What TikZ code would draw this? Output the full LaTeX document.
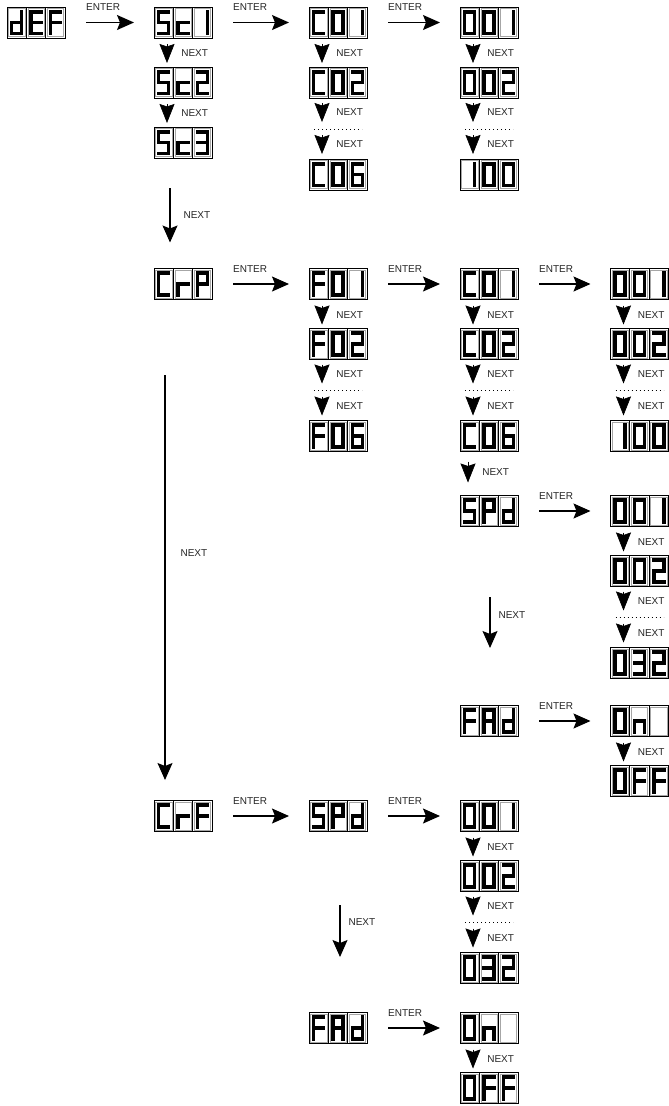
\documentclass[tikz,border=0pt]{standalone}
\usepackage{fontspec}
\setmainfont{Liberation Sans}
\usetikzlibrary{arrows.meta}

% seven segments, relative to a cell centre (y grows downwards)
\def\sgA{\draw[segline] (-5,-10.8) -- (5,-10.8);}
\def\sgB{\draw[segline] (5,-10.8) -- (5,0);}
\def\sgC{\draw[segline] (5,0) -- (5,10.8);}
\def\sgD{\draw[segline] (-5,10.8) -- (5,10.8);}
\def\sgE{\draw[segline] (-5,0) -- (-5,10.8);}
\def\sgF{\draw[segline] (-5,-10.8) -- (-5,0);}
\def\sgG{\draw[segline] (-5,0) -- (5,0);}

\expandafter\def\csname Gly0\endcsname{A,B,C,D,E,F}
\expandafter\def\csname Gly1\endcsname{B,C}
\expandafter\def\csname Gly2\endcsname{A,B,G,E,D}
\expandafter\def\csname Gly3\endcsname{A,B,G,C,D}
\expandafter\def\csname Gly6\endcsname{A,F,G,E,D,C}
\expandafter\def\csname GlyS\endcsname{A,F,G,C,D}
\expandafter\def\csname GlyA\endcsname{A,B,C,E,F,G}
\expandafter\def\csname GlyC\endcsname{A,F,E,D}
\expandafter\def\csname Glyc\endcsname{G,E,D}
\expandafter\def\csname Glyd\endcsname{B,C,D,E,G}
\expandafter\def\csname GlyE\endcsname{A,D,E,F,G}
\expandafter\def\csname GlyF\endcsname{A,E,F,G}
\expandafter\def\csname GlyP\endcsname{A,B,F,G,E}
\expandafter\def\csname Glyr\endcsname{E,G}
\expandafter\def\csname Glyn\endcsname{E,G,C}
\expandafter\def\csname Glyx\endcsname{}

\newcommand\segglyph[2]{%
  \begin{scope}[shift={(#1,0)}]
    \expandafter\let\expandafter\glylist\csname Gly#2\endcsname
    \foreach \s in \glylist {\csname sg\s\endcsname}
  \end{scope}}

\newcommand\segdisp[6]{%
  \node[dispbox] (#1) at (#2,#3) {};
  \begin{scope}[shift={(#2,#3)}]
    \foreach \cx in {-19.333,0,19.333} {\draw[cellin] (\cx-8.1,-13.9) rectangle (\cx+8.1,13.9);}
    \draw[cellsep] (-9.667,-15.5) -- (-9.667,15.5) (9.667,-15.5) -- (9.667,15.5);
    \segglyph{-19.333}{#4}\segglyph{0}{#5}\segglyph{19.333}{#6}
  \end{scope}}

\newcommand\enterarrow[3]{%
  \draw[enterarr] ([xshift=21pt]#1.east) -- ([xshift=-20pt]#2.west);
  \node[lbl,anchor=west] (#3) at ([xshift=21pt,yshift=15pt]#1.east) {ENTER};}

\newcommand\nexttip[3]{%
  \draw[tipstyle] ([xshift=13pt,yshift=-6pt]#1.south west) -- ([xshift=13pt,yshift=4pt]#2.north west)
     node[lbl,midway,anchor=west,xshift=14pt] (#3) {NEXT};}

\newcommand\nextdots[4]{%
  \draw[tipstyle] ([xshift=13pt,yshift=-5pt]#1.south west) -- ([xshift=13pt,yshift=-24pt]#1.south west)
     node[lbl,midway,anchor=west,xshift=14pt] (#3) {NEXT};
  \draw[dotline] ([xshift=5pt,yshift=-31pt]#1.south west) -- ([xshift=-5pt,yshift=-31pt]#1.south east);
  \draw[tipstyle] ([xshift=13pt,yshift=24pt]#2.north west) -- ([xshift=13pt,yshift=5pt]#2.north west)
     node[lbl,midway,anchor=west,xshift=14pt] (#4) {NEXT};}

\begin{document}
\begin{tikzpicture}[x=1pt,y=-1pt,
  segline/.style={line width=3.6pt,line cap=rect},
  dispbox/.style={draw,line width=0.9pt,minimum width=58pt,minimum height=31pt,inner sep=0pt,outer sep=0pt},
  cellin/.style={draw=black!35,line width=0.5pt},
  cellsep/.style={line width=0.8pt},
  lbl/.style={font=\fontsize{10}{12}\selectfont,text=black!85,inner sep=0pt},
  enterarr/.style={line width=1.2pt,-{Stealth[length=17pt,width=15pt,inset=3pt]}},
  longarr/.style={line width=1.2pt,-{Stealth[length=17pt,width=15pt,inset=3pt]}},
  tipstyle/.style={line width=0.6pt,-{Stealth[length=19pt,width=15pt,inset=2.5pt]}},
  dotline/.style={line width=0.9pt,dash pattern=on 1.1pt off 2.9pt}]
\fill[white] (0,0) rectangle (669,1106);
\useasboundingbox (0,0) rectangle (669,1106);

% ---------- section 1 ----------
\segdisp{s1def}{36}{22.5}{d}{E}{F}
\segdisp{s1sc1}{183}{22.5}{S}{c}{1}
\segdisp{s1sc2}{183}{82.5}{S}{c}{2}
\segdisp{s1sc3}{183}{142.5}{S}{c}{3}
\segdisp{s1c01}{338}{22.5}{C}{0}{1}
\segdisp{s1c02}{338}{82.5}{C}{0}{2}
\segdisp{s1c06}{338}{174.5}{C}{0}{6}
\segdisp{s1n001}{489}{22.5}{0}{0}{1}
\segdisp{s1n002}{489}{82.5}{0}{0}{2}
\segdisp{s1n100}{489}{174.5}{1}{0}{0}

\enterarrow{s1def}{s1sc1}{e1}
\enterarrow{s1sc1}{s1c01}{e2}
\enterarrow{s1c01}{s1n001}{e3}
\nexttip{s1sc1}{s1sc2}{n1}
\nexttip{s1sc2}{s1sc3}{n2}
\nexttip{s1c01}{s1c02}{n3}
\nextdots{s1c02}{s1c06}{n4}{n5}
\nexttip{s1n001}{s1n002}{n6}
\nextdots{s1n002}{s1n100}{n7}{n8}

% ---------- section 2 ----------
\segdisp{s2crp}{183}{284}{C}{r}{P}
\segdisp{s2f01}{338}{284}{F}{0}{1}
\segdisp{s2f02}{338}{344}{F}{0}{2}
\segdisp{s2f06}{338}{436}{F}{0}{6}
\segdisp{s2c01}{489}{284}{C}{0}{1}
\segdisp{s2c02}{489}{344}{C}{0}{2}
\segdisp{s2c06}{489}{436}{C}{0}{6}
\segdisp{s2a001}{639.5}{284}{0}{0}{1}
\segdisp{s2a002}{639.5}{344}{0}{0}{2}
\segdisp{s2a100}{639.5}{436}{1}{0}{0}
\segdisp{s2spd}{489}{511}{S}{P}{d}
\segdisp{s2b001}{639.5}{511}{0}{0}{1}
\segdisp{s2b002}{639.5}{571}{0}{0}{2}
\segdisp{s2b032}{639.5}{663}{0}{3}{2}
\segdisp{s2fad}{489}{721}{F}{A}{d}
\segdisp{s2on}{639.5}{721}{0}{n}{x}
\segdisp{s2off}{639.5}{781}{0}{F}{F}

\draw[longarr] ([xshift=16pt,yshift=-30pt]s1sc3.south west) -- ([xshift=16pt,yshift=26pt]s2crp.north west)
   node[lbl,midway,anchor=west,xshift=13pt] (l1) {NEXT};

\enterarrow{s2crp}{s2f01}{e4}
\enterarrow{s2f01}{s2c01}{e5}
\enterarrow{s2c01}{s2a001}{e6}
\enterarrow{s2spd}{s2b001}{e7}
\enterarrow{s2fad}{s2on}{e8}
\nexttip{s2f01}{s2f02}{n9}
\nextdots{s2f02}{s2f06}{n10}{n11}
\nexttip{s2c01}{s2c02}{n12}
\nextdots{s2c02}{s2c06}{n13}{n14}
\nexttip{s2a001}{s2a002}{n15}
\nextdots{s2a002}{s2a100}{n16}{n17}
\draw[tipstyle] ([xshift=8pt,yshift=-10pt]s2c06.south west) -- ([xshift=8pt,yshift=13pt]s2spd.north west)
   node[lbl,midway,anchor=west,xshift=14pt] (n18) {NEXT};
\nexttip{s2b001}{s2b002}{n19}
\nextdots{s2b002}{s2b032}{n20}{n21}
\nexttip{s2on}{s2off}{n22}
\draw[longarr] ([xshift=30pt,yshift=-70.5pt]s2spd.south west) -- ([xshift=30pt,yshift=57.5pt]s2fad.north west)
   node[lbl,pos=0.35,anchor=west,xshift=8pt] (l2) {NEXT};

% ---------- section 3 ----------
\segdisp{s3crf}{183}{816}{C}{r}{F}
\segdisp{s3spd}{338}{816}{S}{P}{d}
\segdisp{s3a001}{489}{816}{0}{0}{1}
\segdisp{s3a002}{489}{876}{0}{0}{2}
\segdisp{s3a032}{489}{968}{0}{3}{2}
\segdisp{s3fad}{338}{1028}{F}{A}{d}
\segdisp{s3on}{489}{1028}{0}{n}{x}
\segdisp{s3off}{489}{1088}{0}{F}{F}

\draw[longarr] ([xshift=11pt,yshift=-75.5pt]s2crp.south west) -- ([xshift=11pt,yshift=20.5pt]s3crf.north west)
   node[lbl,pos=0.44,anchor=west,xshift=15pt] (l3) {NEXT};

\enterarrow{s3crf}{s3spd}{e9}
\enterarrow{s3spd}{s3a001}{e10}
\enterarrow{s3fad}{s3on}{e11}
\nexttip{s3a001}{s3a002}{n23}
\nextdots{s3a002}{s3a032}{n24}{n25}
\nexttip{s3on}{s3off}{n26}
\draw[longarr] ([xshift=31pt,yshift=-73.5pt]s3spd.south west) -- ([xshift=31pt,yshift=55.5pt]s3fad.north west)
   node[lbl,pos=0.33,anchor=west,xshift=8pt] (l4) {NEXT};
\end{tikzpicture}
\end{document}
